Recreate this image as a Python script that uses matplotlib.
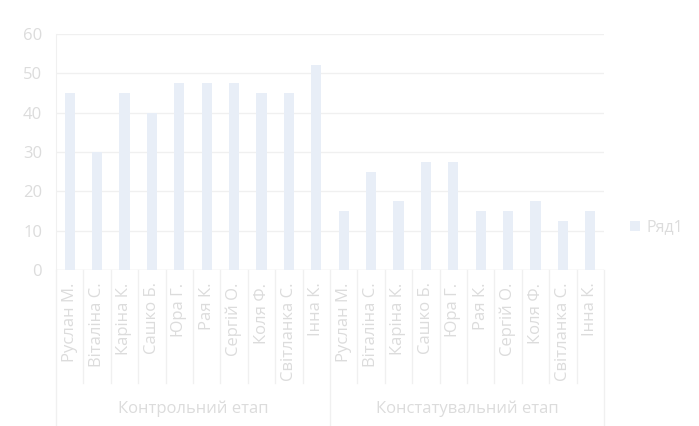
import matplotlib.pyplot as plt
import matplotlib.transforms as mtransforms

names = ["Руслан М.", "Віталіна С.", "Каріна К.", "Сашко Б.", "Юра Г.",
         "Рая К.", "Сергій О.", "Коля Ф.", "Світланка С.", "Інна К."]
groups = ["Контрольний етап", "Констатувальний етап"]
control = [45, 30, 45, 40, 47.5, 47.5, 47.5, 45, 45, 52]
stating = [15, 25, 17.5, 27.5, 27.5, 15, 15, 17.5, 12.5, 15]
yticks = [0, 10, 20, 30, 40, 50, 60]

bar_col = "#E8EEF7"
text_col = "#DCDCDC"
line_col = "#F0F0F0"

plt.rcParams['font.family'] = ['Open Sans', 'DejaVu Sans']

fig = plt.figure(figsize=(6.99, 4.26), dpi=100)
ax = fig.add_axes([56 / 699, 156 / 426, 548 / 699, 236 / 426])

values = control + stating
labels = names + names
x = list(range(len(values)))
ax.bar(x, values, width=0.37, color=bar_col, zorder=2, label="Ряд1")

ax.set_xlim(-0.5, len(values) - 0.5)
ax.set_ylim(0, 60)
ax.set_yticks(yticks)
ax.set_yticklabels([str(v) for v in yticks], color=text_col, fontsize=12)
ax.set_xticks(x)
ax.set_xticklabels(labels, rotation=90, color=text_col, fontsize=12, va="top")
ax.tick_params(axis="x", length=0, pad=9)
ax.tick_params(axis="y", length=0, pad=10)
ax.grid(axis="y", color=line_col, linewidth=1, zorder=0)
for s in ["top", "right", "bottom"]:
    ax.spines[s].set_visible(False)
ax.spines["left"].set_color(line_col)
ax.axhline(0, color=line_col, linewidth=1, zorder=1)

trans = mtransforms.blended_transform_factory(ax.transData, ax.transAxes)
for i in range(len(values) + 1):
    xs = i - 0.5
    low = -0.66 if i % 10 == 0 else -0.48
    ax.plot([xs, xs], [0, low], color=line_col, linewidth=1,
            transform=trans, clip_on=False)

for g, name in enumerate(groups):
    ax.text(g * 10 + 4.5, -0.59, name, transform=trans, ha="center",
            va="center", color=text_col, fontsize=12)

leg = ax.legend(loc="center left", bbox_to_anchor=(1.022, 0.18), frameon=False,
                fontsize=11.5, handlelength=0.6, handleheight=0.6,
                handletextpad=0.4)
for t in leg.get_texts():
    t.set_color(text_col)

fig.savefig("out.png", dpi=100)
